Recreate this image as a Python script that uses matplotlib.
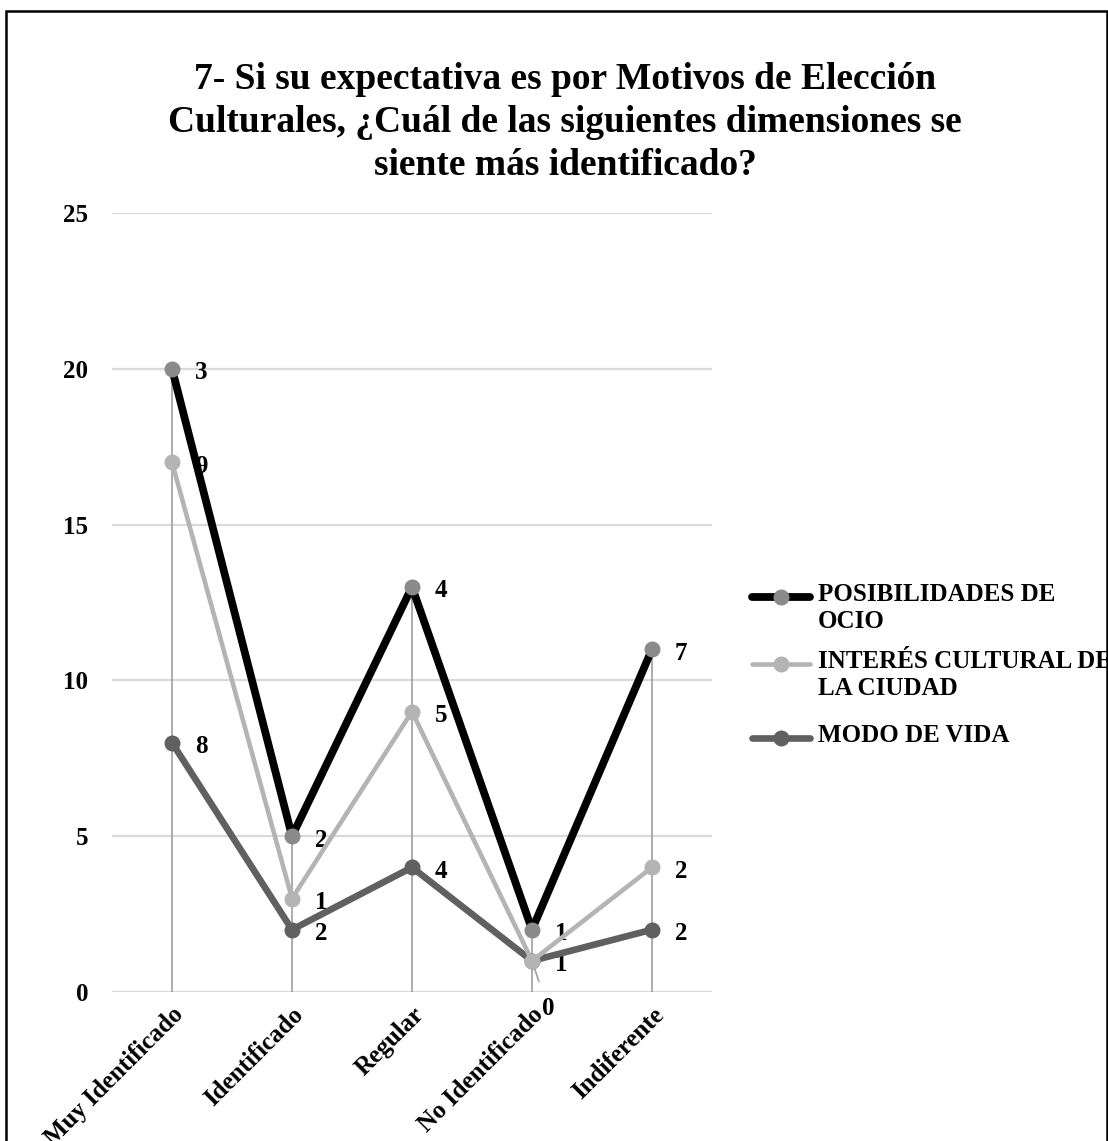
import numpy as np
import matplotlib
matplotlib.use("Agg")
import matplotlib.pyplot as plt
from matplotlib.lines import Line2D
from matplotlib.patches import Rectangle

plt.rcParams['font.family'] = ['Liberation Serif', 'DejaVu Serif']
plt.rcParams['font.weight'] = 'bold'

title = ("7- Si su expectativa es por Motivos de Elección\n"
         "Culturales, ¿Cuál de las siguientes dimensiones se\n"
         "siente más identificado?")
categories = ["Muy Identificado", "Identificado", "Regular", "No Identificado", "Indiferente"]
# stacked series, bottom first
series_names = ["MODO DE VIDA", "INTERÉS CULTURAL DE\nLA CIUDAD", "POSIBILIDADES DE\nOCIO"]
modo_vida = [8, 2, 4, 1, 2]
interes_cultural = [9, 1, 5, 0, 2]
posibilidades_ocio = [3, 2, 4, 1, 7]
yticks = [0, 5, 10, 15, 20, 25]

series_values = [modo_vida, interes_cultural, posibilidades_ocio]
line_colors = ["#606060", "#b4b4b4", "#000000"]
marker_colors = ["#606060", "#b4b4b4", "#8a8a8a"]
line_widths = [4.8, 3.3, 5.6]
zorders = [4, 5, 6]

W, H = 1108, 1141
fig = plt.figure(figsize=(W / 100, H / 100), dpi=100)
ax = fig.add_axes([112 / W, 149 / H, 600 / W, 779 / H])

x = np.arange(len(categories))
ax.set_xlim(-0.5, len(categories) - 0.5)
ax.set_ylim(0, 25)

FS = 18
cum = np.zeros(len(categories))
tops = []
for vals, lc, mc, lw, zo in zip(series_values, line_colors, marker_colors, line_widths, zorders):
    cum = cum + np.array(vals)
    tops.append(cum.copy())
    ax.plot(x, cum, color=lc, lw=lw, marker='o', markersize=10.5,
            markerfacecolor=mc, markeredgecolor=mc, zorder=zo, solid_capstyle='round')
    for xi, yi, v in zip(x, cum, vals):
        if v == 0:
            ax.annotate(str(v), (xi, yi), xytext=(16, -48), textcoords='offset pixels',
                        ha='center', va='center', fontsize=FS, fontweight='bold',
                        arrowprops=dict(arrowstyle='-', color='#a6a6a6', lw=1.3,
                                        shrinkA=10, shrinkB=0), zorder=3)
        else:
            ax.annotate(str(v), (xi, yi), xytext=(23, -4), textcoords='offset pixels',
                        ha='left', va='center', fontsize=FS, fontweight='bold', zorder=3)

# drop lines
ax.vlines(x, 0, tops[-1], color='#a6a6a6', lw=1.3, zorder=2)

ax.set_yticks(yticks)
ax.yaxis.grid(True, color='#d9d9d9', lw=1.6, zorder=0)
ax.set_axisbelow(True)
for s in ax.spines.values():
    s.set_visible(False)
ax.axhline(0, color='#d9d9d9', lw=1.8, zorder=1)
ax.tick_params(axis='both', length=0, labelsize=FS)
ax.tick_params(axis='y', pad=17)
ax.set_xticks(x)
ax.set_xticklabels(categories, rotation=45, ha='right', va='top', rotation_mode='anchor',
                   fontsize=FS, fontweight='bold')
ax.tick_params(axis='x', pad=8)
for lab in ax.get_yticklabels():
    lab.set_fontweight('bold')

# title
fig.text(0.51, 1 - 62 / H, title, ha='center', va='top', fontsize=27,
         fontweight='bold', linespacing=1.3)

# legend (reverse order, handle aligned with first line)
leg_y = [597, 664, 738]
for i, idx in enumerate([2, 1, 0]):
    yy = 1 - leg_y[i] / H
    fig.add_artist(Line2D([752 / W, 810 / W], [yy, yy], transform=fig.transFigure,
                          color=line_colors[idx], lw=line_widths[idx], solid_capstyle='round'))
    fig.add_artist(Line2D([781 / W], [yy], transform=fig.transFigure, marker='o',
                          markersize=10.5, color=marker_colors[idx], lw=0))
    fig.text(818 / W, yy + 14 / H, series_names[idx], ha='left', va='top', fontsize=FS,
             fontweight='bold', linespacing=1.2)

# outer border
fig.add_artist(Rectangle((6 / W, -0.05), (1107 - 6) / W, 0.05 + 1 - 11 / H,
                         transform=fig.transFigure, fill=False, ec='black', lw=1.8))

fig.savefig("out.png", dpi=100)
